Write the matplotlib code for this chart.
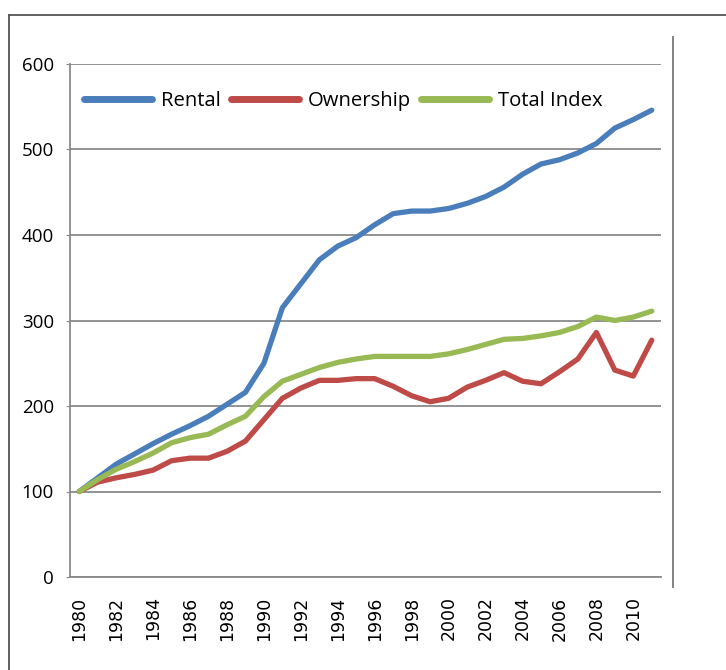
import numpy as np
import matplotlib
matplotlib.use('Agg')
import matplotlib.pyplot as plt
from matplotlib.lines import Line2D

years = list(range(1980, 2012))
rental = [100, 116, 132, 144, 156, 167, 177, 188, 202, 216, 250, 315, 343, 371, 387, 397,
          412, 425, 428, 428, 431, 437, 445, 456, 471, 483, 488, 496, 507, 525, 535, 546]
ownership = [100, 111, 116, 120, 125, 136, 139, 139, 147, 159, 184, 209, 221, 230, 230, 232,
             232, 223, 212, 205, 209, 222, 230, 239, 229, 226, 240, 255, 286, 242, 235, 277]
total_index = [100, 114, 126, 135, 145, 157, 163, 167, 178, 188, 211, 229, 237, 245, 251, 255,
               258, 258, 258, 258, 261, 266, 272, 278, 279, 282, 286, 293, 304, 300, 304, 311]

series_names = ['Rental', 'Ownership', 'Total Index']
series_colors = ['#4A7EBB', '#BE4B48', '#98B954']
year_labels = [str(y) if (y - 1980) % 2 == 0 else '' for y in years]

fig = plt.figure(figsize=(7.26, 6.70), dpi=100)
W, H = 726, 670
ax = fig.add_axes([70 / W, 1 - 577 / H, (661 - 70) / W, (577 - 64) / H])

x = np.arange(len(years))
for vals, name, col in zip([rental, ownership, total_index], series_names, series_colors):
    ax.plot(x, vals, color=col, lw=3.8, label=name, solid_capstyle='round',
            solid_joinstyle='round')

grid_col = '#8a8a8a'
ax.set_ylim(0, 600)
ax.set_yticks(range(0, 601, 100))
ax.set_xlim(-0.5, len(years) - 0.5)
ax.set_xticks(x)
ax.set_xticklabels(year_labels, rotation=90, fontsize=12.5)
for lbl in ax.get_yticklabels():
    lbl.set_family('Open Sans')
ax.yaxis.grid(True, color=grid_col, lw=1.3)
ax.set_axisbelow(True)
ax.tick_params(axis='x', length=0, pad=14)
ax.tick_params(axis='y', length=3, color=grid_col, labelsize=13.5, pad=8.5)
for side in ['top', 'right']:
    ax.spines[side].set_visible(False)
for side in ['left', 'bottom']:
    ax.spines[side].set_color(grid_col)
    ax.spines[side].set_linewidth(1.3)

leg = fig.legend(loc='center left', bbox_to_anchor=(84 / W, 1 - 101 / H), ncol=3,
                 frameon=False, borderpad=0, borderaxespad=0, handlelength=3.35,
                 handletextpad=0.45, columnspacing=0.5,
                 prop={'family': 'Open Sans', 'size': 14.6})
for h in leg.get_lines():
    h.set_linewidth(5)
    h.set_solid_capstyle('round')

# chart frame and right-hand rule
fig.add_artist(Line2D([9 / W, 9 / W], [0, 1 - 15 / H], color='#555555', lw=1.3))
fig.add_artist(Line2D([9 / W, 1], [1 - 15 / H, 1 - 15 / H], color='#555555', lw=1.3))
fig.add_artist(Line2D([673 / W, 673 / W], [1 - 37 / H, 1 - 587 / H], color='#777777', lw=1.3))

fig.savefig('out.png', dpi=100)
